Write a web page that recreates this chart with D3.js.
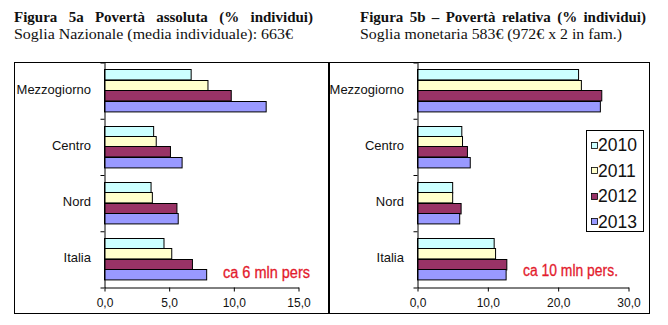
<!DOCTYPE html>
<html><head><meta charset="utf-8">
<script src="https://cdn.jsdelivr.net/npm/d3@7"></script>
<style>body{margin:0;background:#fff;} svg{display:block;}</style>
</head><body>
<script>
const categories = ["Mezzogiorno","Centro","Nord","Italia"];
const years = ["2010","2011","2012","2013"];
const colors = ["#CCFFFF","#FFFFCC","#993366","#9999FF"];
// Figura 5a – povertà assoluta (% individui), one array per year
const abs2010 = [6.7, 3.8, 3.6, 4.6];
const abs2011 = [8.0, 4.0, 3.7, 5.2];
const abs2012 = [9.8, 5.1, 5.6, 6.8];
const abs2013 = [12.5, 6.0, 5.7, 7.9];
// Figura 5b – povertà relativa (% individui)
const rel2010 = [22.9, 6.3, 5.0, 10.9];
const rel2011 = [23.3, 6.4, 5.0, 11.1];
const rel2012 = [26.2, 7.1, 6.2, 12.7];
const rel2013 = [26.0, 7.5, 6.0, 12.6];
const absTicks = [0, 5, 10, 15];
const relTicks = [0, 10, 20, 30];

const W = 668, H = 325;
const svg = d3.select("body").append("svg").attr("width", W).attr("height", H);
svg.append("rect").attr("width", W).attr("height", H).attr("fill", "#fff");

const fmt = d => d3.format(".1f")(d).replace(".", ",");

function fitWords(sel, target) {
  const natural = sel.node().getComputedTextLength();
  const spaces = (sel.text().match(/ /g) || []).length;
  if (natural < target && spaces > 0) sel.attr("word-spacing", (target - natural) / spaces);
  else if (natural > target) sel.attr("textLength", target).attr("lengthAdjust", "spacingAndGlyphs");
}
function fitGlyphs(sel, target) {
  sel.attr("textLength", target).attr("lengthAdjust", "spacingAndGlyphs");
}

function titles(x, w1, w2, t1, t2) {
  const a = svg.append("text").attr("x", x).attr("y", 22)
    .attr("font-family", "'Liberation Serif','Times New Roman',serif")
    .attr("font-weight", "bold").attr("font-size", 15).attr("fill", "#111").text(t1);
  fitWords(a, w1);
  const b = svg.append("text").attr("x", x).attr("y", 39)
    .attr("font-family", "'Liberation Serif','Times New Roman',serif")
    .attr("font-size", 14.5).attr("fill", "#111").text(t2);
  fitGlyphs(b, w2);
}

function chart(opts) {
  const {fx0, fx1, ax, axEnd, maxV, ticks, series, note, noteX, noteY, noteW} = opts;
  const fy0 = 62, fy1 = 313, py1 = 287;
  svg.append("rect").attr("x", fx0 + 0.5).attr("y", fy0 + 0.5)
    .attr("width", fx1 - fx0).attr("height", fy1 - fy0)
    .attr("fill", "none").attr("stroke", "#000").attr("stroke-width", 1);
  const x = d3.scaleLinear().domain([0, maxV]).range([ax, axEnd]);
  const y0 = d3.scaleBand().domain(categories).range([fy0, py1]);
  const pad = 7.3;
  const y1 = d3.scaleBand().domain(years).range([pad, y0.bandwidth() - pad]);
  const g = svg.append("g");
  years.forEach((yr, si) => {
    g.selectAll(null).data(categories).join("rect")
      .attr("x", x(0) + 0.5)
      .attr("y", c => Math.round(y0(c) + y1(yr)) + 0.5)
      .attr("width", (c, i) => x(series[si][i]) - x(0))
      .attr("height", y1.bandwidth())
      .attr("fill", colors[si]).attr("stroke", "#000").attr("stroke-width", 1);
  });
  const xa = svg.append("g").attr("transform", `translate(0.5,${py1 + 0.5})`)
    .call(d3.axisBottom(x).tickValues(ticks).tickFormat(fmt).tickSize(4).tickSizeOuter(0));
  xa.selectAll("text").attr("font-family", "'Liberation Sans',Arial,sans-serif")
    .attr("font-size", 12).attr("fill", "#111").attr("dy", "1.1em").attr("y", 6);
  xa.select(".domain").attr("stroke", "#000");
  xa.selectAll(".tick line").attr("stroke", "#000");
  const yb = d3.scaleLinear().domain([0, categories.length]).range([fy0, py1]);
  const ya = svg.append("g").attr("transform", `translate(${ax + 0.5},0.5)`)
    .call(d3.axisLeft(yb).tickValues(d3.range(categories.length + 1)).tickFormat("").tickSize(4).tickSizeOuter(0));
  ya.select(".domain").attr("stroke", "#000");
  ya.selectAll(".tick line").attr("stroke", "#000");
  svg.selectAll(null).data(categories).join("text")
    .attr("x", ax - 13).attr("y", c => y0(c) + y0.bandwidth() / 2 - 1)
    .attr("text-anchor", "end").attr("dominant-baseline", "central")
    .attr("font-family", "'Liberation Sans',Arial,sans-serif").attr("font-size", 13)
    .attr("fill", "#111").text(c => c);
  svg.append("text").attr("x", noteX).attr("y", noteY)
    .attr("font-family", "'Liberation Sans',Arial,sans-serif").attr("font-size", 16)
    .attr("fill", "#e31b2d").attr("stroke", "#e31b2d").attr("stroke-width", 0.3)
    .attr("textLength", noteW).attr("lengthAdjust", "spacingAndGlyphs")
    .text(note);
}

titles(14, 299, 279, "Figura 5a Povertà assoluta (% individui)", "Soglia Nazionale (media individuale): 663€");
titles(360, 286, 262, "Figura 5b – Povertà relativa (% individui)", "Soglia monetaria 583€ (972€ x 2 in fam.)");

chart({fx0: 14, fx1: 329, ax: 104, axEnd: 298, maxV: 15, ticks: absTicks,
  series: [abs2010, abs2011, abs2012, abs2013], note: "ca 6 mln pers", noteX: 223, noteY: 278, noteW: 87});
chart({fx0: 328, fx1: 649, ax: 417, axEnd: 628, maxV: 30, ticks: relTicks,
  series: [rel2010, rel2011, rel2012, rel2013], note: "ca 10 mln pers.", noteX: 523, noteY: 276, noteW: 95});

const lg = svg.append("g");
lg.append("rect").attr("x", 586.5).attr("y", 130.5).attr("width", 57).attr("height", 101)
  .attr("fill", "#fff").attr("stroke", "#000");
years.forEach((yr, i) => {
  const cy = 145 + i * 25.6;
  lg.append("rect").attr("x", 591.5).attr("y", Math.round(cy - 3.5) + 0.5).attr("width", 6).attr("height", 6)
    .attr("fill", colors[i]).attr("stroke", "#000").attr("stroke-width", 0.8);
  lg.append("text").attr("x", 598).attr("y", cy).attr("dominant-baseline", "central")
    .attr("font-family", "'Liberation Sans',Arial,sans-serif").attr("font-size", 17.5)
    .attr("fill", "#111").text(yr);
});
</script>
</body></html>
